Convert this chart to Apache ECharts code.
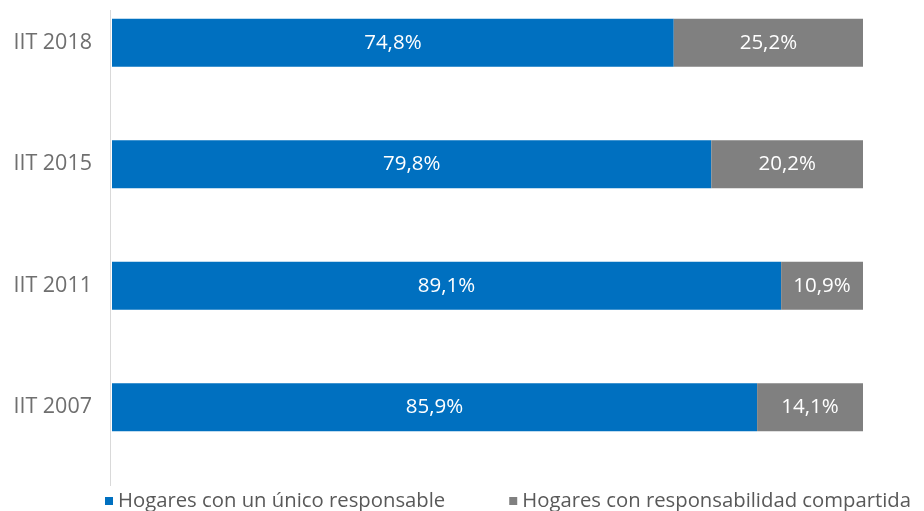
<!DOCTYPE html>
<html>
<head>
<meta charset="utf-8">
<script src="https://cdn.jsdelivr.net/npm/echarts@6/dist/echarts.min.js"></script>
<style>
  html, body { margin: 0; padding: 0; background: #ffffff; }
  #chart { width: 924px; height: 511px; }
</style>
</head>
<body>
<div id="chart"></div>
<script>
// Survey editions, top to bottom
const categories = ['IIT 2018', 'IIT 2015', 'IIT 2011', 'IIT 2007'];
// Share of households (%)
const unicoResponsable = [74.8, 79.8, 89.1, 85.9];
const responsabilidadCompartida = [25.2, 20.2, 10.9, 14.1];
const seriesNames = ['Hogares con un único responsable', 'Hogares con responsabilidad compartida'];

const FONT = '"Open Sans", "Noto Sans", sans-serif';
const fmt = v => v.toFixed(1).replace('.', ',') + '%';

const chart = echarts.init(document.getElementById('chart'), null, { renderer: 'canvas' });

const labelStyle = {
  show: true,
  position: 'inside',
  color: '#ffffff',
  fontFamily: FONT,
  fontSize: 20.5,
  formatter: p => fmt(p.value)
};

chart.setOption({
  animation: false,
  backgroundColor: '#ffffff',
  grid: { left: 112, right: 61, top: -18, height: 486, containLabel: false, outerBoundsMode: 'none' },
  xAxis: {
    type: 'value',
    min: 0,
    max: 100,
    show: false
  },
  yAxis: {
    type: 'category',
    data: categories,
    inverse: true,
    axisLine: { show: false },
    axisTick: { show: false },
    axisLabel: {
      color: '#6f6f6f',
      fontFamily: FONT,
      fontSize: 21.5,
      margin: 20
    }
  },
  legend: {
    data: seriesNames,
    left: 100,
    top: 486,
    icon: 'rect',
    itemWidth: 8,
    itemHeight: 8,
    itemGap: 64,
    textStyle: { color: '#595959', fontFamily: FONT, fontSize: 20.3 }
  },
  graphic: [{
    type: 'line',
    shape: { x1: 110.5, y1: 10, x2: 110.5, y2: 486 },
    style: { stroke: '#d9d9d9', lineWidth: 1 },
    silent: true
  }],
  series: [
    {
      name: seriesNames[0],
      type: 'bar',
      stack: 'total',
      barWidth: 48,
      data: unicoResponsable,
      itemStyle: { color: '#0070c0' },
      label: labelStyle
    },
    {
      name: seriesNames[1],
      type: 'bar',
      stack: 'total',
      barWidth: 48,
      data: responsabilidadCompartida,
      itemStyle: { color: '#808080' },
      label: labelStyle
    }
  ]
});
</script>
</body>
</html>
